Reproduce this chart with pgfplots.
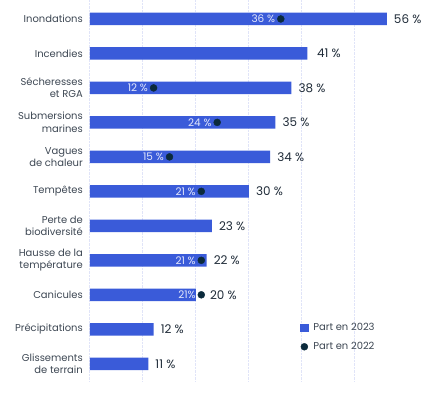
\documentclass[border=0pt]{standalone}
\usepackage{pgfplots}
\pgfplotsset{compat=1.18}
\usepackage{fontspec}
\setmainfont{Poppins}
\definecolor{barblue}{HTML}{3A5BD9}
\definecolor{dotnavy}{HTML}{0B2A3C}
\definecolor{labgray}{HTML}{3D4753}
\definecolor{valdark}{HTML}{1F2B38}
\definecolor{gridc}{HTML}{E0E4F8}
\definecolor{inlab}{HTML}{E4E8FB}
\begin{document}
\begin{tikzpicture}
\begin{axis}[
  at={(0,0)}, anchor=south west,
  scale only axis, width=318bp, height=381bp,
  xmin=0, xmax=60, ymin=-0.55, ymax=10.5, y dir=reverse,
  clip=false,
  axis line style={draw=none},
  major tick length=0pt,
  xtick={0,10,20,30,40,50}, xticklabels={},
  xmajorgrids, grid style={gridc, densely dotted, line width=1bp},
  ytick={0,1,2,3,4,5,6,7,8,9,10},
  yticklabels={Inondations, Incendies, {Sécheresses\\et RGA}, {Submersions\\marines}, {Vagues\\de chaleur}, Tempêtes, {Perte de\\biodiversité}, {Hausse de la\\température}, Canicules, Précipitations, {Glissements\\de terrain}},
  yticklabel style={align=right, inner sep=0pt, xshift=-7bp, text=labgray, font=\fontsize{10}{12.5}\selectfont},
  legend style={at={(axis cs:39.1,8.74)}, anchor=north west, draw=none, fill=none,
    font=\fontsize{10}{12}\selectfont, text=labgray, row sep=8bp,
    nodes={inner sep=1bp},
    /tikz/every odd column/.append style={column sep=4bp}},
  legend cell align=left,
]
\addplot[xbar, bar width=12.5bp, fill=barblue, draw=none, forget plot] coordinates {
  (56,0) (41,1) (38,2) (35,3) (34,4) (30,5) (23,6) (22,7) (20,8) (12,9) (11,10)};
\addplot[only marks, mark=*, mark size=3.5bp, dotnavy, forget plot] coordinates {
  (36,0) (12,2) (24,3) (15,4) (21,5) (21,7) (21,8)};
\addplot[draw=none, mark=none, forget plot, nodes near coords, point meta=explicit symbolic,
  nodes near coords style={anchor=west, inner sep=0pt, xshift=7bp, text=valdark, font=\fontsize{12}{13}\selectfont}] coordinates {
  (56,0) [56 \%] (41.5,1) [41 \%] (38,2) [38 \%] (35,3) [35 \%] (34,4) [34 \%] (30,5) [30 \%]
  (23,6) [23 \%] (22,7) [22 \%] (21.3,8) [20 \%] (12,9) [12 \%] (11,10) [11 \%]};
\addplot[draw=none, mark=none, forget plot, nodes near coords, point meta=explicit symbolic,
  nodes near coords style={anchor=east, inner sep=0pt, xshift=-5.5bp, text=inlab, font=\fontsize{10.5}{11}\selectfont}] coordinates {
  (36,0) [36 \%] (12,2) [12 \%] (24,3) [24 \%] (15,4) [15 \%] (21,5) [21 \%] (21,7) [21 \%] (21,8) [21\%]};
\addlegendimage{legend image code/.code={\fill[barblue] (-3.75bp,-3.75bp) rectangle (3.75bp,3.75bp);}}
\addlegendentry{Part en 2023}
\addlegendimage{legend image code/.code={\fill[dotnavy] (0bp,0bp) circle (3.5bp);}}
\addlegendentry{Part en 2022}
\end{axis}
\pgfresetboundingbox
\path[use as bounding box] (-90bp,-12bp) rectangle (342bp,381bp);
\end{tikzpicture}
\end{document}
